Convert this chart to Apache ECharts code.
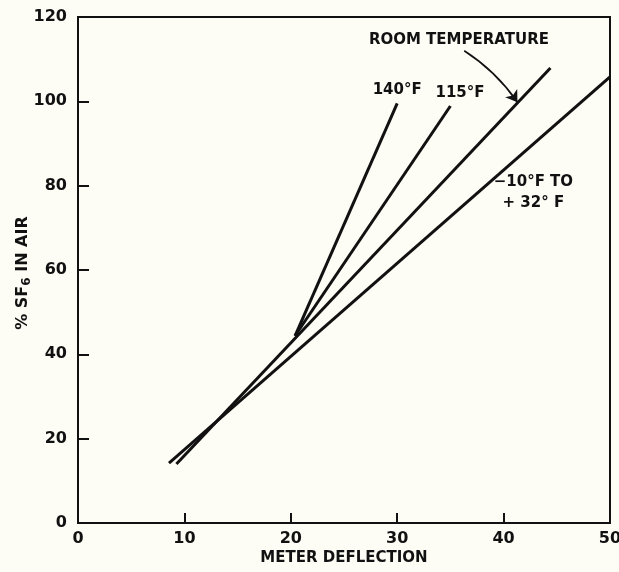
<!DOCTYPE html>
<html>
<head>
<meta charset="utf-8">
<script src="https://cdn.jsdelivr.net/npm/echarts@6/dist/echarts.min.js"></script>
<style>
  html, body { margin: 0; padding: 0; background: #fdfdf6; }
  #chart { width: 619px; height: 572px; }
</style>
</head>
<body>
<div id="chart"></div>
<script>
// Calibration curves: % SF6 in air vs. meter deflection
const xTicks = [0, 10, 20, 30, 40, 50];
const yTicks = [0, 20, 40, 60, 80, 100, 120];

const line140F = [[20.4, 44.4], [30.0, 99.5]];
const line115F = [[20.4, 44.4], [35.0, 98.9]];
const lineRoom = [[9.25, 14.0], [44.4, 107.9]];
const lineCold = [[8.55, 14.2], [50.0, 105.8]];

// Curve labels: [x, y, text]
const curveLabels = [
  [30.0, 102.6, '140°F'],
  [35.9, 102.0, '115°F'],
  [35.8, 114.5, 'ROOM TEMPERATURE'],
  [42.8, 78.3, '−10°F TO\n+ 32° F']
];

// Leader arrow from the room-temperature label to its curve
const roomArrow = [[36.3, 112.0], [41.3, 99.8]];

const ink = '#111111';
const font = 'DejaVu Sans';

const chart = echarts.init(document.getElementById('chart'));

function curve(data) {
  return {
    type: 'line',
    data: data,
    showSymbol: false,
    symbol: 'none',
    lineStyle: { color: ink, width: 3 },
    silent: true,
    z: 3
  };
}

chart.setOption({
  backgroundColor: '#fdfdf6',
  animation: false,
  grid: {
    left: 78, right: 9, top: 17, bottom: 49,
    outerBoundsMode: 'none',
    containLabel: false,
    show: true, borderColor: ink, borderWidth: 2
  },
  xAxis: {
    type: 'value',
    min: xTicks[0], max: xTicks[xTicks.length - 1], interval: 10,
    name: 'METER DEFLECTION',
    nameLocation: 'middle',
    nameGap: 28,
    nameMoveOverlap: false,
    nameTextStyle: { color: ink, fontFamily: font, fontSize: 15, fontWeight: 'bold' },
    axisLine: { lineStyle: { color: ink, width: 2 } },
    axisTick: { inside: true, length: 10, lineStyle: { color: ink, width: 2 } },
    axisLabel: { color: ink, fontFamily: font, fontSize: 16, fontWeight: 'bold', margin: 8 },
    splitLine: { show: false }
  },
  yAxis: {
    type: 'value',
    min: yTicks[0], max: yTicks[yTicks.length - 1], interval: 20,
    name: '% SF{sub|6} IN AIR',
    nameLocation: 'middle',
    nameGap: 45,
    nameMoveOverlap: false,
    nameTextStyle: {
      color: ink, fontFamily: font, fontSize: 16, fontWeight: 'bold',
      padding: [0, 6, 0, 0],
      rich: {
        sub: { fontFamily: font, fontSize: 12, fontWeight: 'bold', color: ink, verticalAlign: 'bottom', padding: [9, 0, 0, 0] }
      }
    },
    axisLine: { lineStyle: { color: ink, width: 2 } },
    axisTick: { inside: true, length: 11, lineStyle: { color: ink, width: 2 } },
    axisLabel: { color: ink, fontFamily: font, fontSize: 16, fontWeight: 'bold', margin: 11 },
    splitLine: { show: false }
  },
  series: [
    curve(line140F),
    curve(line115F),
    curve(lineRoom),
    curve(lineCold),
    {
      type: 'lines',
      coordinateSystem: 'cartesian2d',
      polyline: false,
      silent: true,
      symbol: ['none', 'arrow'],
      symbolSize: 11,
      lineStyle: { color: ink, width: 1.6, curveness: 0.1, opacity: 1 },
      data: [{ coords: roomArrow }],
      z: 4
    },
    {
      type: 'scatter',
      symbolSize: 0,
      silent: true,
      itemStyle: { color: ink, opacity: 1 },
      data: curveLabels.map(d => ({ value: [d[0], d[1]], name: d[2] })),
      label: {
        show: true,
        position: 'inside',
        formatter: p => p.name,
        color: ink,
        opacity: 1,
        textBorderWidth: 0,
        fontFamily: font,
        fontSize: 15,
        fontWeight: 'bold',
        lineHeight: 21,
        align: 'center',
        verticalAlign: 'middle'
      },
      z: 5
    }
  ]
});
</script>
</body>
</html>
